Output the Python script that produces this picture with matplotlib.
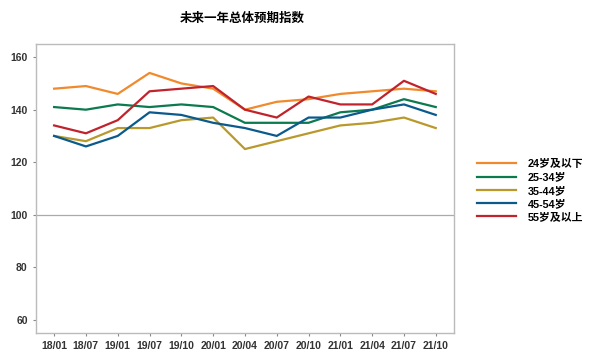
import matplotlib
matplotlib.use("Agg")
import matplotlib.pyplot as plt
import numpy as np

plt.rcParams['font.family'] = ['Liberation Sans', 'Noto Sans CJK SC', 'DejaVu Sans']

# quarter labels and index values per age group
quarters = ['18/01', '18/07', '19/01', '19/07', '19/10', '20/01', '20/04',
            '20/07', '20/10', '21/01', '21/04', '21/07', '21/10']
age_24_below = [148, 149, 146, 154, 150, 148, 140, 143, 144, 146, 147, 148, 147]
age_25_34 = [141, 140, 142, 141, 142, 141, 135, 135, 135, 139, 140, 144, 141]
age_35_44 = [130, 128, 133, 133, 136, 137, 125, 128, 131, 134, 135, 137, 133]
age_45_54 = [130, 126, 130, 139, 138, 135, 133, 130, 137, 137, 140, 142, 138]
age_55_above = [134, 131, 136, 147, 148, 149, 140, 137, 145, 142, 142, 151, 146]

series = [
    ('24岁及以下', age_24_below, '#F08A2C'),
    ('25-34岁', age_25_34, '#0B7A4E'),
    ('35-44岁', age_35_44, '#B9992C'),
    ('45-54岁', age_45_54, '#0B5A8C'),
    ('55岁及以上', age_55_above, '#C0232B'),
]

fig = plt.figure(figsize=(6, 3.61), dpi=100)
ax = fig.add_axes([0.06, 0.078, 0.697, 0.800])

x = np.arange(len(quarters))
for name, vals, col in series:
    ax.plot(x, vals, color=col, linewidth=1.6, label=name)

ax.axhline(100, color='#AAAAAA', linewidth=0.9, zorder=0)

ax.set_xlim(-0.57, 12.58)
ax.set_ylim(55, 165)
ax.set_xticks(x)
ax.set_xticklabels(quarters)
ax.set_yticks([60, 80, 100, 120, 140, 160])
ax.tick_params(axis='both', colors='#888888', labelcolor='#333333',
               labelsize=7.5, length=2.5, width=0.8)
for lab in ax.get_xticklabels() + ax.get_yticklabels():
    lab.set_fontweight('bold')
for s in ax.spines.values():
    s.set_color('#BBBBBB')
    s.set_linewidth(1.0)

fig.text(0.403, 0.95, '未来一年总体预期指数', ha='center', va='center',
         fontsize=9, fontweight='bold', family=['Noto Sans CJK SC'])

leg = fig.legend(loc='center left', bbox_to_anchor=(0.778, 0.472), frameon=False,
                 handlelength=3.6, handletextpad=1.1, labelspacing=0.3,
                 prop={'weight': 'bold', 'size': 7.8})

fig.savefig('out.png', dpi=100)
